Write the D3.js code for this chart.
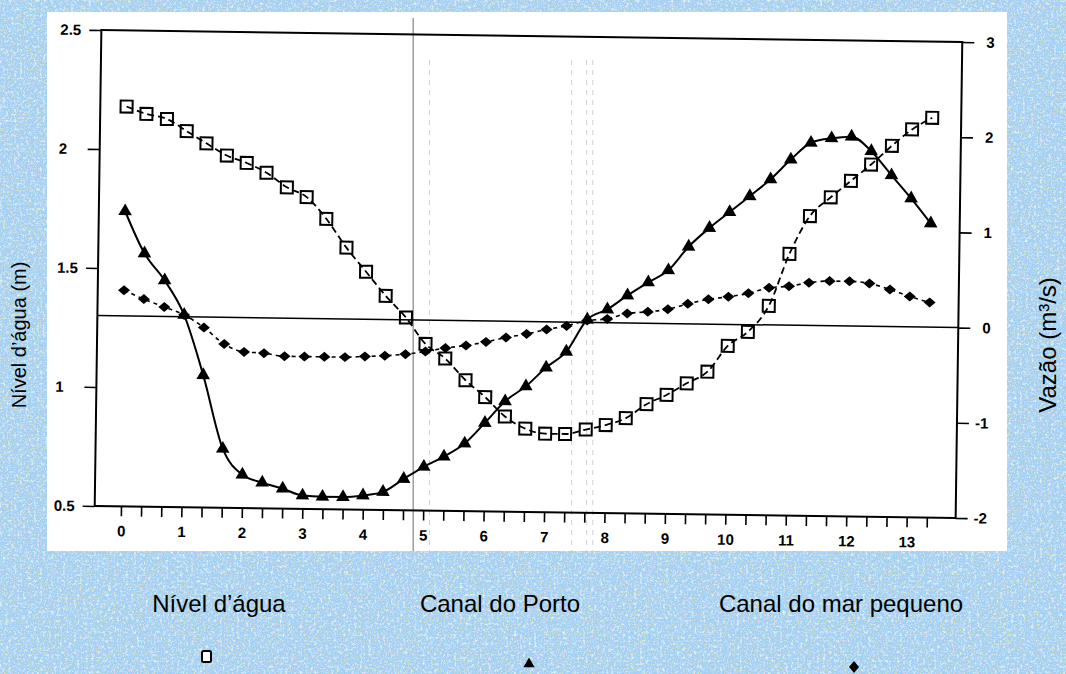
<!DOCTYPE html>
<html>
<head>
<meta charset="utf-8">
<script src="https://cdn.jsdelivr.net/npm/d3@7"></script>
<style>
  html, body { margin: 0; padding: 0; background: #a3d0f2; }
  svg { display: block; }
</style>
</head>
<body>
<script>
// Time axis (hours), sampled every 20 minutes
const hours = [0, 0.33, 0.67, 1, 1.33, 1.67, 2, 2.33, 2.67, 3, 3.33, 3.67, 4, 4.33, 4.67,
  5, 5.33, 5.67, 6, 6.33, 6.67, 7, 7.33, 7.67, 8, 8.33, 8.67, 9, 9.33, 9.67,
  10, 10.33, 10.67, 11, 11.33, 11.67, 12, 12.33, 12.67, 13, 13.33];

// Nível d'água (m) — left axis
const nivelAgua = [2.18, 2.15, 2.13, 2.08, 2.03, 1.98, 1.95, 1.91, 1.85, 1.81, 1.72, 1.60, 1.50, 1.40, 1.31,
  1.20, 1.14, 1.05, 0.98, 0.90, 0.85, 0.83, 0.83, 0.85, 0.87, 0.90, 0.96, 1.00, 1.05, 1.10,
  1.21, 1.27, 1.38, 1.60, 1.76, 1.84, 1.91, 1.98, 2.06, 2.13, 2.18];

// Vazão no Canal do Porto (m³/s) — right axis
const canalPorto = [1.10, 0.66, 0.38, 0.02, -0.61, -1.38, -1.65, -1.73, -1.79, -1.86, -1.87, -1.87, -1.85, -1.81, -1.67,
  -1.54, -1.43, -1.29, -1.07, -0.84, -0.68, -0.48, -0.31, 0.03, 0.14, 0.29, 0.43, 0.56, 0.81, 1.01,
  1.18, 1.35, 1.53, 1.74, 1.92, 1.97, 1.99, 1.84, 1.59, 1.35, 1.09];

// Vazão no Canal do mar pequeno (m³/s) — right axis
const canalMarPequeno = [0.27, 0.18, 0.10, 0.02, -0.11, -0.28, -0.36, -0.37, -0.40, -0.40, -0.40, -0.40, -0.39, -0.38, -0.36,
  -0.33, -0.29, -0.26, -0.22, -0.17, -0.13, -0.08, -0.04, 0.02, 0.04, 0.10, 0.12, 0.15, 0.21, 0.26,
  0.29, 0.33, 0.39, 0.41, 0.45, 0.47, 0.47, 0.45, 0.39, 0.32, 0.26];

const xTicks = [0, 1, 2, 3, 4, 5, 6, 7, 8, 9, 10, 11, 12, 13];
const xTickLabels = ['0', '1', '2', '3', '4', '5', '6', '7', '8', '9', '10', '11', '12', '13'];
const leftTicks = [0.5, 1, 1.5, 2, 2.5];
const leftTickLabels = ['0.5', '1', '1.5', '2', '2.5'];
const rightTicks = [-2, -1, 0, 1, 2, 3];
const rightTickLabels = ['-2', '-1', '0', '1', '2', '3'];
const guideHours = [4.78, 5.05, 7.4, 7.65, 7.75];

const legendLabels = ['Nível d’água', 'Canal do Porto', 'Canal do mar pequeno'];
const leftTitle = 'Nível d’água (m)';
const rightTitle = 'Vazão (m³/s)';

const W = 1066, H = 674;
const FONT = '"Liberation Sans", Arial, Helvetica, sans-serif';

const svg = d3.select('body').append('svg').attr('width', W).attr('height', H);

// ---- slide background with a fine speckled texture
const defs = svg.append('defs');
const f = defs.append('filter').attr('id', 'speckle')
  .attr('x', 0).attr('y', 0).attr('width', '100%').attr('height', '100%');
const speckleLayers = [
  { seed: 7,  freq: 0.7, rgb: [0.70, 0.84, 0.55], k: 4.5, b: -2.45 },
  { seed: 21, freq: 0.7, rgb: [0.68, 0.66, 0.92], k: 4.5, b: -2.5 },
  { seed: 40, freq: 0.35, rgb: [0.80, 0.93, 1.00], k: 3.2, b: -1.75 }
];
speckleLayers.forEach((l, i) => {
  f.append('feTurbulence').attr('type', 'fractalNoise').attr('baseFrequency', l.freq)
    .attr('numOctaves', 2).attr('seed', l.seed).attr('result', 'n' + i);
  f.append('feColorMatrix').attr('in', 'n' + i).attr('type', 'matrix')
    .attr('values', `0 0 0 0 ${l.rgb[0]}  0 0 0 0 ${l.rgb[1]}  0 0 0 0 ${l.rgb[2]}  ${l.k} 0 0 0 ${l.b}`)
    .attr('result', 'c' + i);
});
const merge = f.append('feMerge');
speckleLayers.forEach((l, i) => merge.append('feMergeNode').attr('in', 'c' + i));

svg.append('rect').attr('width', W).attr('height', H).attr('fill', '#a3d0f2');
svg.append('rect').attr('width', W).attr('height', H).attr('fill', '#fff').attr('filter', 'url(#speckle)');

// ---- white chart card
svg.append('rect').attr('x', 47).attr('y', 12).attr('width', 960).attr('height', 539).attr('fill', '#fff');

// ---- plot frame (the printed chart sits slightly tilted on the card)
const x0 = 98, x1 = 959, y0 = 36, y1 = 512;
const tilt = 0.8;

const x = d3.scaleLinear().domain([-0.435, 13.81]).range([x0, x1]);
const yLeft = d3.scaleLinear().domain([0.5, 2.5]).range([y1, y0]);
const yRight = d3.scaleLinear().domain([-2, 3]).range([y1, y0]);

// faint vertical guide marks on the sheet
svg.append('g').selectAll('line').data(guideHours).join('line')
  .attr('x1', d => x(d)).attr('x2', d => x(d))
  .attr('y1', (d, i) => i === 0 ? 18 : 60).attr('y2', 551)
  .attr('stroke', (d, i) => i === 0 ? '#8f8f8f' : '#d2d2d2')
  .attr('stroke-width', (d, i) => i === 0 ? 1.3 : 1)
  .attr('stroke-dasharray', (d, i) => i === 0 ? null : '5,5');

const plot = svg.append('g').attr('transform', `rotate(${tilt}, ${(x0 + x1) / 2}, ${(y0 + y1) / 2})`);

function styleAxis(g) {
  g.select('.domain').remove();
  g.selectAll('.tick line').attr('stroke', '#000').attr('stroke-width', 1.6);
  g.selectAll('text').attr('fill', '#000').attr('font-family', FONT)
    .attr('font-size', 15).attr('font-weight', 'bold');
}

const labelOf = (ticks, labels) => d => {
  const k = ticks.findIndex(t => Math.abs(t - d) < 1e-6);
  return k >= 0 ? labels[k] : '';
};

// left axis
plot.append('g').attr('transform', `translate(${x0},0)`)
  .call(d3.axisLeft(yLeft).tickValues(leftTicks).tickSize(12).tickFormat(labelOf(leftTicks, leftTickLabels)))
  .call(styleAxis)
  .call(g => g.selectAll('text').attr('x', -41).attr('text-anchor', 'start'));

// right axis
plot.append('g').attr('transform', `translate(${x1},0)`)
  .call(d3.axisRight(yRight).tickValues(rightTicks).tickSize(12).tickFormat(labelOf(rightTicks, rightTickLabels)))
  .call(styleAxis)
  .call(g => g.selectAll('text').attr('x', d => d < 0 ? 18 : 24).attr('text-anchor', 'start'));

// bottom axis: ticks every 20 minutes, labels on the hours
const minorTicks = d3.range(0, 41).map(i => i / 3);
plot.append('g').attr('transform', `translate(0,${y1})`)
  .call(d3.axisBottom(x).tickValues(minorTicks).tickSize(10).tickFormat(labelOf(xTicks, xTickLabels)))
  .call(styleAxis)
  .call(g => g.selectAll('text').attr('y', 30).attr('dy', 0));

// frame
plot.append('rect').attr('x', x0).attr('y', y0).attr('width', x1 - x0).attr('height', y1 - y0)
  .attr('fill', 'none').attr('stroke', '#000').attr('stroke-width', 2);

// zero-flow reference line
plot.append('line').attr('x1', x0).attr('x2', x1)
  .attr('y1', yRight(0)).attr('y2', yRight(0))
  .attr('stroke', '#000').attr('stroke-width', 1.5);

// ---- series
const nivelPts = hours.map((h, i) => [x(h), yLeft(nivelAgua[i])]);
const portoPts = hours.map((h, i) => [x(h), yRight(canalPorto[i])]);
const marPts = hours.map((h, i) => [x(h), yRight(canalMarPequeno[i])]);

const line = d3.line().curve(d3.curveMonotoneX);

plot.append('path').attr('d', line(nivelPts)).attr('fill', 'none')
  .attr('stroke', '#000').attr('stroke-width', 1.8).attr('stroke-dasharray', '7,4');
plot.append('path').attr('d', line(portoPts)).attr('fill', 'none')
  .attr('stroke', '#000').attr('stroke-width', 2);
plot.append('path').attr('d', line(marPts)).attr('fill', 'none')
  .attr('stroke', '#000').attr('stroke-width', 1.6).attr('stroke-dasharray', '4,4');

const diamond = (w, h) => `M0,${-h}L${w},0L0,${h}L${-w},0Z`;

plot.append('g').selectAll('rect').data(nivelPts).join('rect')
  .attr('x', d => d[0] - 6).attr('y', d => d[1] - 6).attr('width', 12).attr('height', 12)
  .attr('fill', 'none').attr('stroke', '#000').attr('stroke-width', 2);

plot.append('g').selectAll('path').data(portoPts).join('path')
  .attr('transform', d => `translate(${d[0]},${d[1]})`)
  .attr('d', d3.symbol(d3.symbolTriangle, 80)()).attr('fill', '#000');

plot.append('g').selectAll('path').data(marPts).join('path')
  .attr('transform', d => `translate(${d[0]},${d[1]})`)
  .attr('d', diamond(6, 5)).attr('fill', '#000');

// ---- axis titles
svg.append('text').attr('transform', 'translate(26,335) rotate(-90)')
  .attr('text-anchor', 'middle').attr('font-family', FONT).attr('font-size', 20)
  .attr('fill', '#000').text(leftTitle);
svg.append('text').attr('transform', 'translate(1056,345) rotate(-90)')
  .attr('text-anchor', 'middle').attr('font-family', FONT).attr('font-size', 24)
  .attr('fill', '#000').text(rightTitle);

// ---- legend below the card
const legendX = [219, 500, 841];
svg.append('g').selectAll('text').data(legendLabels).join('text')
  .attr('x', (d, i) => legendX[i]).attr('y', 612)
  .attr('text-anchor', 'middle').attr('font-family', FONT).attr('font-size', 24)
  .attr('fill', '#000').text(d => d);

const lg = svg.append('g');
lg.append('rect').attr('x', 202).attr('y', 651).attr('width', 9).attr('height', 11).attr('rx', 1.5)
  .attr('fill', '#fff').attr('stroke', '#000').attr('stroke-width', 2);
lg.append('path').attr('transform', 'translate(529,664)')
  .attr('d', d3.symbol(d3.symbolTriangle, 55)()).attr('fill', '#000');
lg.append('path').attr('transform', 'translate(854,667)')
  .attr('d', diamond(5, 6)).attr('fill', '#000');
</script>
</body>
</html>
